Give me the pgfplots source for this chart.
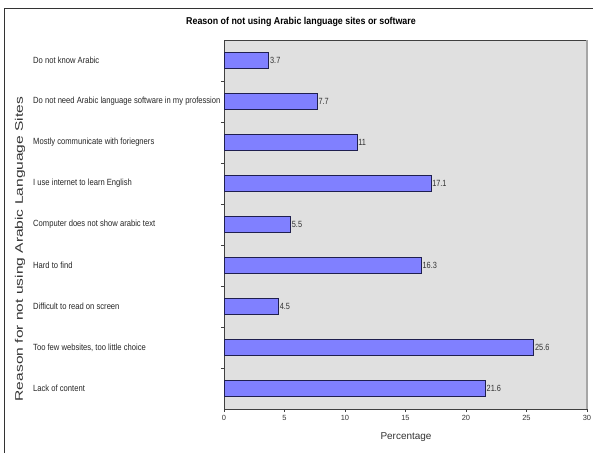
\documentclass[border=0pt]{standalone}
\usepackage{pgfplots}
\pgfplotsset{compat=1.18}
\usepackage{fontspec}
\setmainfont{Liberation Sans}
\definecolor{barfill}{HTML}{8080FF}
\definecolor{bardraw}{HTML}{1F1F4F}
\definecolor{bggray}{HTML}{E0E0E0}
\newcommand{\tl}[1]{\scalebox{0.85}[1]{#1}}
\begin{document}
\begin{tikzpicture}
\path[use as bounding box] (0,0) rectangle (593bp,453bp);
\draw[line width=1bp, color=black!80] (4bp,0) -- (4bp,444bp) -- (593bp,444bp);
\begin{axis}[
  at={(224bp,44bp)}, anchor=south west,
  scale only axis, width=363bp, height=369bp,
  xmin=0, xmax=30, ymin=-0.5, ymax=8.5, y dir=reverse,
  axis background/.style={fill=bggray},
  axis x line*=bottom, axis y line*=left,
  axis line style={draw=black!75, line width=0.8bp},
  xtick={0,5,...,30},
  ytick={0,...,8},
  yticklabels={\tl{Do not know Arabic},\tl{Do not need Arabic language software in my profession},\tl{Mostly communicate with foriegners},\tl{I use internet to learn English},\tl{Computer does not show arabic text},\tl{Hard to find},\tl{Difficult to read on screen},\tl{Too few websites, too little choice},\tl{Lack of content}},
  minor ytick={0.5,1.5,...,7.5},
  tick align=outside,
  major tick length=3bp, minor tick length=3bp,
  ytick style={draw=none},
  minor y tick style={draw=black!75, line width=0.6bp},
  xtick style={draw=black!75, line width=0.6bp},
  yticklabel style={anchor=west, xshift=-188bp, inner sep=0pt, font=\fontsize{9}{10}\selectfont, text=black!85},
  xticklabel style={font=\fontsize{7.5}{8}\selectfont, text=black!80},
  /pgf/number format/assume math mode=true,
  xbar, bar width=16bp,
  point meta=x,
  nodes near coords={\scalebox{0.82}[1]{\pgfmathprintnumber{\pgfplotspointmeta}}},
  every node near coord/.append style={anchor=west, font=\fontsize{9}{10}\selectfont, text=black!80, inner sep=1bp},
  clip=false,
]
\addplot[fill=barfill, draw=bardraw, line width=0.7bp] coordinates {
(3.7,0) (7.7,1) (11,2) (17.1,3) (5.5,4) (16.3,5) (4.5,6) (25.6,7) (21.6,8)};
\draw[black!75, line width=0.8bp] (axis description cs:0,1) -- (axis description cs:1,1);
\draw[black!35, line width=1.6bp] (axis description cs:1,1) -- (axis description cs:1,0);
\end{axis}
\node[font=\bfseries\fontsize{10}{12}\selectfont] at (301bp,431bp) {\scalebox{0.89}[1]{Reason of not using Arabic language sites or software}};
\node[font=\fontsize{10}{12}\selectfont, text=black!80] at (406bp,16bp) {Percentage};
\node[rotate=90, font=\fontsize{11}{13}\selectfont, text=black!80] at (20bp,204bp) {\scalebox{1.42}[1]{Reason for not using Arabic Language Sites}};
\end{tikzpicture}
\end{document}
